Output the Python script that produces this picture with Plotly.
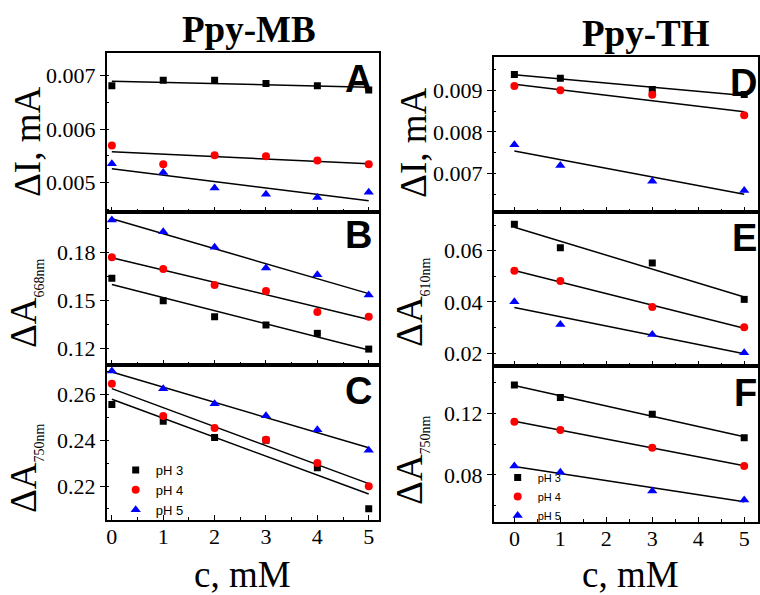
import numpy as np
import plotly.graph_objects as go

W, H = 760, 595

# ---------------- data ----------------
x_mb = [0, 1, 2, 3, 4, 5]
x_th = [0, 1, 3, 5]

# Panel A: delta I (mA), Ppy-MB
A_ph3 = [0.00681, 0.00691, 0.00691, 0.00685, 0.00681, 0.00673]
A_ph4 = [0.00569, 0.00534, 0.00551, 0.00549, 0.00541, 0.00534]
A_ph5 = [0.00535, 0.00519, 0.00490, 0.00478, 0.00472, 0.00482]
# Panel B: delta A 668 nm
B_ph3 = [0.1638, 0.1498, 0.1399, 0.1348, 0.1296, 0.1198]
B_ph4 = [0.1769, 0.1696, 0.1597, 0.1559, 0.1428, 0.1399]
B_ph5 = [0.2001, 0.1928, 0.1831, 0.1702, 0.1661, 0.1534]
# Panel C: delta A 750 nm
C_ph3 = [0.2556, 0.2483, 0.2412, 0.2400, 0.2280, 0.2101]
C_ph4 = [0.2646, 0.2506, 0.2453, 0.2402, 0.2301, 0.2199]
C_ph5 = [0.2702, 0.2624, 0.2559, 0.2507, 0.2446, 0.2356]
# Panel D: delta I (mA), Ppy-TH
D_ph3 = [0.00938, 0.00929, 0.00902, 0.00890]
D_ph4 = [0.00910, 0.00900, 0.00889, 0.00840]
D_ph5 = [0.00769, 0.00719, 0.00681, 0.00659]
# Panel E: delta A 610 nm
E_ph3 = [0.0703, 0.0611, 0.0552, 0.0410]
E_ph4 = [0.0522, 0.0482, 0.0380, 0.0301]
E_ph5 = [0.0401, 0.0312, 0.0273, 0.0202]
# Panel F: delta A 750 nm
F_ph3 = [0.1383, 0.1303, 0.1194, 0.1042]
F_ph4 = [0.1146, 0.1092, 0.0977, 0.0858]
F_ph5 = [0.0858, 0.0817, 0.0696, 0.0638]

series_names = ["pH 3", "pH 4", "pH 5"]
panel_letters = ["A", "B", "C", "D", "E", "F"]
col_titles = ["Ppy-MB", "Ppy-TH"]
x_title = "c, mM"

# ---------------- styling ----------------
colors = ["#000000", "#FF0000", "#0000FF"]
symbols = ["square", "circle", "triangle-up"]
msizes = [7, 8, 9]
SERIF = "Liberation Serif"
SANS = "Liberation Sans"

def px_x(p):
    return p / W

def px_y(p):
    return 1 - p / H

# panel pixel boxes: (x0, x1, ytop, ybottom)
boxes = [
    (107, 380, 53, 212), (107, 380, 212, 365), (107, 380, 365, 520),
    (495, 760, 57, 212), (495, 760, 212, 366), (495, 760, 366, 522),
]
yranges = [
    (0.00445, 0.00742), (0.1099, 0.2051), (0.2052, 0.2728),
    (0.00607, 0.0098), (0.0150, 0.0751), (0.0495, 0.1507),
]
ydticks = [0.001, 0.03, 0.02, 0.001, 0.02, 0.04]
yfmts = [".3f", ".2f", ".2f", ".3f", ".2f", ".2f"]
xranges = [(-0.1, 5.2)] * 3 + [(-0.45, 5.3)] * 3

panels = [
    (x_mb, [A_ph3, A_ph4, A_ph5]),
    (x_mb, [B_ph3, B_ph4, B_ph5]),
    (x_mb, [C_ph3, C_ph4, C_ph5]),
    (x_th, [D_ph3, D_ph4, D_ph5]),
    (x_th, [E_ph3, E_ph4, E_ph5]),
    (x_th, [F_ph3, F_ph4, F_ph5]),
]

fig = go.Figure()

for i, (xs, ys_list) in enumerate(panels):
    ax = "" if i == 0 else str(i + 1)
    for k, ys in enumerate(ys_list):
        # linear fit line
        slope, icpt = np.polyfit(xs, ys, 1)
        xf = np.array([min(xs), max(xs)], dtype=float)
        fig.add_trace(go.Scatter(
            x=xf, y=slope * xf + icpt, mode="lines",
            line=dict(color="black", width=1.5),
            xaxis="x" + ax, yaxis="y" + ax, showlegend=False, hoverinfo="skip"))
    for k, ys in enumerate(ys_list):
        show = i in (2, 5)
        fig.add_trace(go.Scatter(
            x=xs, y=ys, mode="markers", name=series_names[k],
            marker=dict(symbol=symbols[k], color=colors[k], size=msizes[k],
                        line=dict(width=0)),
            xaxis="x" + ax, yaxis="y" + ax,
            showlegend=show,
            legend="legend" if i == 2 else "legend2"))

layout = dict(
    width=W, height=H,
    margin=dict(l=0, r=0, t=0, b=0),
    paper_bgcolor="white", plot_bgcolor="white",
    font=dict(family=SERIF, color="black", size=21),
)

for i in range(6):
    x0, x1, yt, yb = boxes[i]
    ax = "" if i == 0 else str(i + 1)
    bottom = i in (2, 5)
    layout["xaxis" + ax] = dict(
        domain=[px_x(x0), min(px_x(x1), 1.0)],
        range=list(xranges[i]), anchor="y" + ax,
        showline=True, linecolor="black", linewidth=1.5, mirror=True,
        ticks="inside", ticklen=5, tickwidth=1.2, tickcolor="black",
        tick0=0, dtick=1, showticklabels=bottom, ticklabelstandoff=-4,
        tickfont=dict(family=SERIF, size=22, color="black"),
        minor=dict(dtick=0.5, ticks="inside", ticklen=3, tickwidth=1,
                   tickcolor="black"),
        showgrid=False, zeroline=False,
    )
    layout["yaxis" + ax] = dict(
        domain=[px_y(yb), px_y(yt)],
        range=list(yranges[i]), anchor="x" + ax,
        showline=True, linecolor="black", linewidth=1.5, mirror=True,
        ticks="outside", ticklen=5, tickwidth=1.2, tickcolor="black",
        tick0=0, dtick=ydticks[i], tickformat=yfmts[i],
        tickfont=dict(family=SERIF, size=22, color="black"),
        minor=dict(dtick=ydticks[i] / 2, ticks="inside", ticklen=3,
                   tickwidth=1, tickcolor="black"),
        showgrid=False, zeroline=False,
    )

layout["legend"] = dict(
    x=px_x(116), y=px_y(455), xanchor="left", yanchor="top",
    bgcolor="rgba(0,0,0,0)", font=dict(family=SANS, size=13, color="black"),
    tracegroupgap=0, itemwidth=30)
layout["legend2"] = dict(
    x=px_x(499), y=px_y(463), xanchor="left", yanchor="top",
    bgcolor="rgba(0,0,0,0)", font=dict(family=SANS, size=11, color="black"),
    tracegroupgap=0, itemwidth=30)

def ann(text, x, y, size, family, xanchor="center", yanchor="middle", angle=0):
    return dict(text=text, x=px_x(x), y=px_y(y), xref="paper", yref="paper",
                showarrow=False, xanchor=xanchor, yanchor=yanchor,
                textangle=angle,
                font=dict(family=family, size=size, color="black"))

annotations = []
# column titles
annotations.append(ann("<b>" + col_titles[0] + "</b>", 250, 29, 37, SERIF))
annotations.append(ann("<b>" + col_titles[1] + "</b>", 648, 33, 37, SERIF))
# x titles
for cx in (243, 632):
    annotations.append(ann(x_title, cx, 574, 37, SERIF))
# panel letters
letter_pos = [(375, 79), (375, 235), (375, 391), (761, 83), (761, 238), (761, 393)]
for L, (lx, ly) in zip(panel_letters, letter_pos):
    annotations.append(ann("<b>" + L + "</b>", lx, ly, 38, SANS, xanchor="right"))
# y titles
sub = lambda s: "ΔA<sub><span style='font-size:14px'>" + s + "</span></sub>"
ytitles = [
    ("ΔI, mA", 27, 142), (sub("668nm"), 25, 303), (sub("750nm"), 25, 468),
    ("ΔI, mA", 414, 143), (sub("610nm"), 412, 302), (sub("750nm"), 412, 460),
]
for t, tx, ty in ytitles:
    annotations.append(ann(t, tx, ty, 37, SERIF, angle=-90))
layout["annotations"] = annotations

fig.update_layout(**layout)
fig.write_html("out.html")
